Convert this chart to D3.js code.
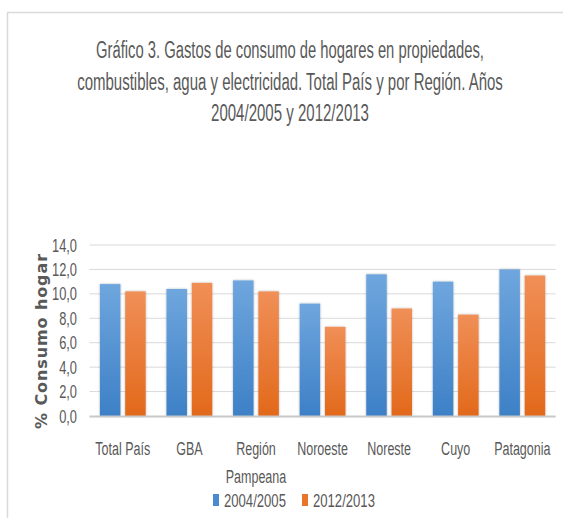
<!DOCTYPE html>
<html><head><meta charset="utf-8">
<script src="https://cdn.jsdelivr.net/npm/d3@7"></script>
<style>body{margin:0;background:#fff}svg{display:block}</style>
</head><body>
<svg id="c" width="563" height="518"></svg>
<script>
const titleLines = ["Gráfico 3. Gastos de consumo de hogares en propiedades,",
  "combustibles, agua y electricidad. Total País y por Región. Años",
  "2004/2005 y 2012/2013"];
const categories = ["Total País", "GBA", "Región Pampeana", "Noroeste", "Noreste", "Cuyo", "Patagonia"];
const categoryLines = [["Total País"], ["GBA"], ["Región", "Pampeana"], ["Noroeste"], ["Noreste"], ["Cuyo"], ["Patagonia"]];
const seriesNames = ["2004/2005", "2012/2013"];
const values2004 = [10.8, 10.4, 11.1, 9.2, 11.6, 11.0, 12.0];
const values2012 = [10.2, 10.9, 10.2, 7.3, 8.8, 8.3, 11.5];
const yTicks = [0, 2, 4, 6, 8, 10, 12, 14];
const yTitle = "% Consumo hogar";

const svg = d3.select("#c");
const font = "'Liberation Sans Narrow', 'Liberation Sans', Arial, sans-serif";
const textCol = "#595959";

function ctext(parent, str, x, y, size, anchor) {
  const g = parent.append("g").attr("transform", `translate(${x},${y})`);
  const t = g.append("text").attr("x", 0).attr("y", 0).attr("text-anchor", anchor)
    .attr("font-family", font).attr("font-size", size).attr("fill", textCol).text(str);
  return { g, t, scale(f) { t.attr("transform", `scale(${f},1)`); } };
}
function naturalWidth(parent, str, size) {
  const t = parent.append("text").attr("font-family", font).attr("font-size", size).text(str);
  const w = t.node().getComputedTextLength();
  t.remove();
  return w;
}

const defs = svg.append("defs");
function grad(id, c0, c1) {
  const g = defs.append("linearGradient").attr("id", id).attr("x1", 0).attr("y1", 0).attr("x2", 0).attr("y2", 1);
  g.append("stop").attr("offset", "0%").attr("stop-color", c0);
  g.append("stop").attr("offset", "100%").attr("stop-color", c1);
}
grad("gBlue", "#6fa6de", "#3d80c6");
grad("gOrange", "#f08f57", "#e2691b");
const flt = defs.append("filter").attr("id", "sh").attr("x", "-20%").attr("y", "-5%").attr("width", "140%").attr("height", "110%");
flt.append("feDropShadow").attr("dx", 0).attr("dy", 0).attr("stdDeviation", 1).attr("flood-color", "#000").attr("flood-opacity", 0.3);

// border
svg.append("path").attr("d", "M7.5,518 V12.5 H563").attr("fill", "none").attr("stroke", "#d9d9d9").attr("stroke-width", 1.5);

// title
const titleW = [388, 426, 158];
const tl = svg.append("g");
titleLines.forEach((t, i) => {
  const c = ctext(tl, t, 290, 58 + i * 31.5, 23.5, "middle");
  c.scale(titleW[i] / naturalWidth(tl, t, 23.5));
});

const x0 = d3.scaleBand().domain(categories).range([89.5, 555.6]).paddingInner(0).paddingOuter(0);
const x1 = d3.scaleBand().domain(seriesNames).range([10.4, x0.bandwidth() - 10.4]).paddingInner(0.19);
const y = d3.scaleLinear().domain([0, 14]).range([416, 245]);

// grid
svg.append("g").selectAll("line").data(yTicks.filter(d => d > 0)).join("line")
  .attr("x1", 89.5).attr("x2", 555.6).attr("y1", d => y(d)).attr("y2", d => y(d))
  .attr("stroke", "#d9d9d9").attr("stroke-width", 1);

// y tick labels
const fmt = d => d3.format(".1f")(d).replace(".", ",");
const yl = svg.append("g");
const tickF = 25 / naturalWidth(yl, fmt(14), 18.5);
yTicks.forEach(d => {
  ctext(yl, fmt(d), 77, y(d) + 6.5, 18.5, "end").scale(tickF);
});

// bars
const series = [values2004, values2012];
const fills = ["url(#gBlue)", "url(#gOrange)"];
const bg = svg.append("g");
categories.forEach((c, i) => {
  series.forEach((vals, s) => {
    bg.append("rect")
      .attr("x", x0(c) + x1(seriesNames[s]))
      .attr("width", x1.bandwidth())
      .attr("y", y(vals[i]))
      .attr("height", y(0) - y(vals[i]))
      .attr("fill", fills[s]).attr("filter", "url(#sh)");
  });
});

// axis line
svg.append("line").attr("x1", 89.5).attr("x2", 555.6).attr("y1", y(0) + 0.5).attr("y2", y(0) + 0.5)
  .attr("stroke", "#c8c8c8").attr("stroke-width", 1.8);

// x labels
const xl = svg.append("g");
const labF = 55 / naturalWidth(xl, "Total País", 19);
categories.forEach((c, i) => {
  categoryLines[i].forEach((ln, j) => {
    ctext(xl, ln, x0(c) + x0.bandwidth() / 2, 455 + j * 28, 19, "middle").scale(labF);
  });
});

// y title
svg.append("text").attr("transform", "translate(46.5,341) rotate(-90)").attr("text-anchor", "middle")
  .attr("font-family", "'DejaVu Sans', sans-serif").attr("font-weight", "bold").attr("font-size", 16)
  .attr("letter-spacing", 0.9).attr("fill", textCol).text(yTitle);

// legend
const lg = svg.append("g");
const legX = [213, 302];
const legCol = ["#4a8bd0", "#ea7428"];
const legF = 62 / naturalWidth(lg, seriesNames[0], 19);
seriesNames.forEach((s, i) => {
  lg.append("rect").attr("x", legX[i]).attr("y", 494).attr("width", 6).attr("height", 12).attr("fill", legCol[i]);
  ctext(lg, s, legX[i] + 11, 507, 19, "start").scale(legF);
});
</script>
</body></html>
